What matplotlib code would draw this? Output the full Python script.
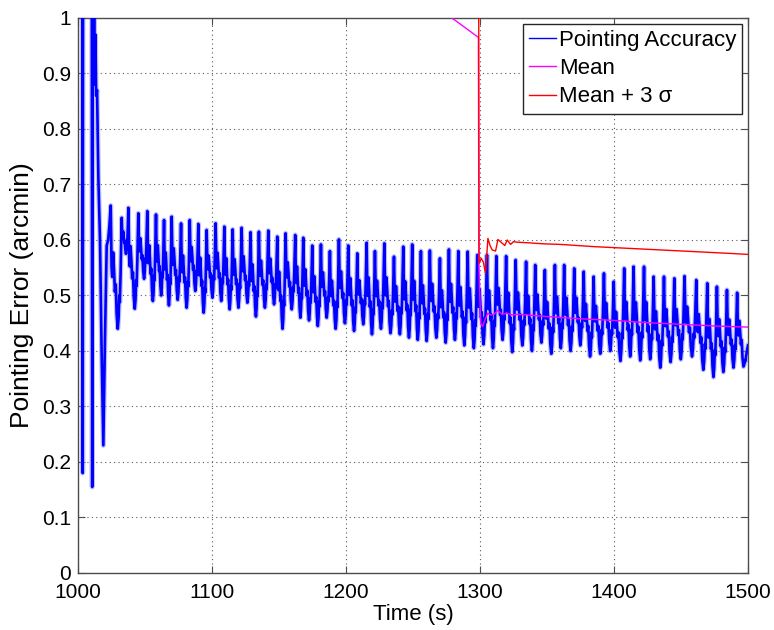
import numpy as np
import matplotlib
matplotlib.use("Agg")
import matplotlib.pyplot as plt

plt.rcParams['font.family'] = ['Liberation Sans', 'DejaVu Sans']

# ---- start-up transient of the pointing error (before the periodic regime)
early_t = [1000.0, 1003.2, 1003.5, 1003.8, 1010.2, 1010.6, 1011.0, 1011.5, 1012.0,
           1012.5, 1013.0, 1013.5, 1014.2, 1015.2, 1016.4, 1017.6, 1018.9, 1020.1,
           1021.4, 1022.5, 1023.4]
early_v = [1.40, 1.30, 0.18, 1.35, 1.35, 0.155, 1.02, 0.90, 1.00,
           0.88, 0.97, 0.86, 0.87, 0.71, 0.60, 0.40, 0.23, 0.42,
           0.59, 0.60, 0.625]

# ---- periodic regime: time and height of each peak, and the trough after it
peak_t = [1024.4, 1032.6, 1037.6, 1045.0, 1051.7, 1058.2, 1064.2, 1069.9, 1076.9, 1083.4,
          1089.8, 1096.0, 1102.7, 1109.2, 1115.4, 1122.1, 1128.8, 1135.0, 1142.0, 1148.7,
          1154.9, 1162.1, 1168.1, 1174.8, 1181.3, 1188.0, 1194.7, 1201.7, 1208.4, 1215.4,
          1221.6, 1228.6, 1235.8, 1242.7, 1249.4, 1255.9, 1262.6, 1270.1, 1276.8, 1283.8,
          1290.8, 1298.0, 1305.2, 1312.2, 1319.5, 1326.6, 1334.4, 1341.2, 1348.4, 1355.9,
          1362.8, 1370.3, 1377.4, 1384.8, 1392.5, 1399.8, 1407.6, 1414.6, 1422.4, 1429.6,
          1437.3, 1445.0, 1452.6, 1461.4, 1469.6, 1476.8, 1484.3, 1491.9]
peak_v = [0.662, 0.640, 0.658, 0.648, 0.652, 0.646, 0.636, 0.642, 0.630, 0.636,
          0.629, 0.618, 0.630, 0.624, 0.619, 0.622, 0.614, 0.615, 0.617, 0.606,
          0.612, 0.609, 0.604, 0.590, 0.592, 0.580, 0.601, 0.590, 0.576, 0.595,
          0.580, 0.594, 0.570, 0.588, 0.592, 0.580, 0.581, 0.567, 0.583, 0.580,
          0.579, 0.573, 0.573, 0.571, 0.571, 0.564, 0.561, 0.555, 0.546, 0.555,
          0.555, 0.549, 0.543, 0.534, 0.540, 0.525, 0.549, 0.552, 0.552, 0.534,
          0.534, 0.531, 0.535, 0.528, 0.522, 0.516, 0.510, 0.505]
trough_v = [0.440, 0.575, 0.476, 0.530, 0.490, 0.500, 0.482, 0.492, 0.478, 0.508,
            0.469, 0.496, 0.490, 0.475, 0.478, 0.487, 0.462, 0.478, 0.484, 0.440,
            0.475, 0.460, 0.455, 0.445, 0.460, 0.440, 0.450, 0.436, 0.448, 0.430,
            0.440, 0.432, 0.430, 0.424, 0.420, 0.418, 0.424, 0.415, 0.420, 0.410,
            0.405, 0.412, 0.405, 0.420, 0.398, 0.410, 0.400, 0.415, 0.395, 0.405,
            0.400, 0.410, 0.390, 0.395, 0.400, 0.382, 0.390, 0.383, 0.385, 0.370,
            0.380, 0.385, 0.390, 0.366, 0.353, 0.362, 0.370, 0.372]
end_t, end_v = 1500.0, 0.41

# ---- running mean and mean + 3 sigma (computed from t = 1300 s onwards)
mean_t = [1270.0, 1298.8, 1299.2, 1300.5, 1302.0, 1303.5, 1305.8, 1308.0, 1310.5,
          1313.3, 1316.5, 1320.0, 1324.0, 1328.0, 1335.0, 1350.0, 1375.0, 1400.0,
          1425.0, 1450.0, 1475.0, 1500.0]
mean_v = [1.016, 0.965, 0.55, 0.450, 0.444, 0.455, 0.468, 0.465, 0.466,
          0.473, 0.466, 0.468, 0.465, 0.466, 0.465, 0.462, 0.458, 0.455,
          0.451, 0.448, 0.445, 0.443]

red_t = [1299.0, 1299.3, 1300.9, 1302.5, 1304.1, 1305.9, 1307.5, 1309.1, 1311.6,
         1313.4, 1316.6, 1318.5, 1320.3, 1322.8, 1325.0, 1327.8, 1335.3, 1347.7,
         1360.0, 1385.0, 1410.0, 1435.0, 1460.0, 1485.0, 1500.0]
red_v = [1.10, 0.558, 0.567, 0.560, 0.540, 0.603, 0.590, 0.582, 0.580,
         0.601, 0.594, 0.590, 0.600, 0.592, 0.597, 0.596, 0.595, 0.593,
         0.592, 0.588, 0.585, 0.582, 0.579, 0.576, 0.574]

# waveform of one oscillation between a peak and the next one:
# (fraction of the period, fraction of the swing, which swing)
cycle_shape = [(0.08, 0.50, 0), (0.14, 0.42, 0), (0.22, 0.62, 0), (0.30, 0.48, 0),
               (0.38, 0.30, 0), (0.46, 0.36, 0), (0.54, 0.12, 0), (0.64, 0.00, 0),
               (0.72, 0.10, 1), (0.78, 0.30, 1), (0.83, 0.24, 1), (0.90, 0.50, 1)]


def build_signal():
    t = list(early_t)
    v = list(early_v)
    n = len(peak_t)
    for i in range(n):
        tp, vp, tr = peak_t[i], peak_v[i], trough_v[i]
        if i + 1 < n:
            tn, vn = peak_t[i + 1], peak_v[i + 1]
        else:
            tn, vn = peak_t[i] + 7.4, end_v
        t.append(tp)
        v.append(vp)
        for frac, amp, which in cycle_shape:
            tt = tp + frac * (tn - tp)
            if tt > end_t:
                break
            top = vp if which == 0 else vn
            t.append(tt)
            v.append(tr + amp * (top - tr))
    t.append(end_t)
    v.append(end_v)
    return np.array(t), np.array(v)


sig_t, sig_v = build_signal()

fig = plt.figure(figsize=(7.74, 6.30), dpi=100)
ax = fig.add_axes([0.1008, 0.0905, 0.8656, 0.8810])

ax.plot(sig_t, sig_v, color=(0.5, 0.5, 1.0), lw=3.6, alpha=0.5, zorder=2)
l1, = ax.plot(sig_t, sig_v, color=(0, 0, 1), lw=1.9, zorder=3,
              label='Pointing Accuracy')
l2, = ax.plot(mean_t, mean_v, color=(1, 0, 1), lw=1.0, zorder=4, label='Mean')
l3, = ax.plot(red_t, red_v, color=(1, 0, 0), lw=1.0, zorder=4,
              label='Mean + 3 \u03c3')

ax.set_xlim(1000, 1500)
ax.set_ylim(0, 1)
ax.set_xticks([1000, 1100, 1200, 1300, 1400, 1500])
ax.set_yticks(np.round(np.arange(0, 1.01, 0.1), 1))
ax.set_yticklabels(['0', '0.1', '0.2', '0.3', '0.4', '0.5', '0.6', '0.7', '0.8',
                    '0.9', '1'])

ax.grid(True, color='0.35', linestyle=(0, (1, 3)), linewidth=0.8)
ax.set_axisbelow(True)
for sp in ax.spines.values():
    sp.set_color('0.3')
    sp.set_linewidth(1.0)
ax.tick_params(direction='in', top=True, right=True, length=5, width=0.8,
               color='0.3', labelsize=15)
ax.tick_params(axis='x', pad=7)
ax.tick_params(axis='y', pad=5)

ax.set_xlabel('Time (s)', fontsize=16, labelpad=2)
ax.set_ylabel('Pointing Error (arcmin)', fontsize=19, labelpad=6)

leg = ax.legend(handles=[l1, l2, l3], loc='upper right', fontsize=16,
                handlelength=1.2, handletextpad=0.13, labelspacing=0.33,
                borderpad=0.28, borderaxespad=0.25, fancybox=False,
                framealpha=1.0, edgecolor='0.15')
leg.get_frame().set_linewidth(1.0)
for h in leg.legend_handles:
    h.set_linewidth(1.0)

fig.savefig('out.png', dpi=100, facecolor='white')
